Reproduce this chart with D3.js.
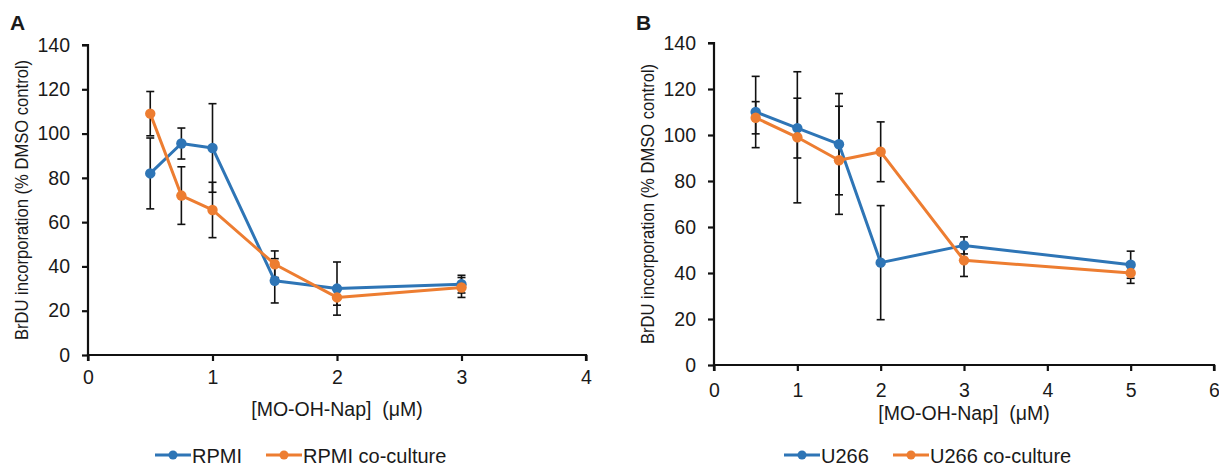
<!DOCTYPE html>
<html lang="en">
<head>
    <meta charset="UTF-8">
    <title>BrDU incorporation vs MO-OH-Nap</title>
    <script src="https://d3js.org/d3.v7.min.js"></script>
    <style>
        body {
            margin: 0;
            background: #fff;
            font-family: "Liberation Sans", Arial, sans-serif;
        }
        svg text { fill: #1a1a1a; }
    </style>
</head>
<body>
    <svg id="chart" width="1219" height="466"></svg>

    <script>
        // panel A data
        const xA = [0.5, 0.75, 1, 1.5, 2, 3];
        const rpmi = [82, 95.5, 93.5, 33.5, 30, 32];
        const rpmiErr = [16, 7, 20, 10, 12, 4];
        const rpmiCo = [109, 72, 65.5, 41, 26, 30.5];
        const rpmiCoErr = [10, 13, 12.5, 6, 3.5, 4.5];

        // panel B data
        const xB = [0.5, 1, 1.5, 2, 3, 5];
        const u266 = [110, 103, 96, 44.5, 52, 43.6];
        const u266Err = [15.5, 13, 22, 24.8, 3.7, 5.9];
        const u266Co = [107.5, 99, 89, 92.7, 45.5, 40];
        const u266CoErr = [7, 28.5, 23.5, 13, 7, 4.5];

        const yTicks = [0, 20, 40, 60, 80, 100, 120, 140];
        const xTicksA = [0, 1, 2, 3, 4];
        const xTicksB = [0, 1, 2, 3, 4, 5, 6];

        const BLUE = "#2e75b6";
        const ORANGE = "#ed7d31";

        const svg = d3.select("#chart");

        function drawPanel(p) {
            const g = svg.append("g");
            const x = d3.scaleLinear().domain(p.xDomain).range([p.left, p.right]);
            const y = d3.scaleLinear().domain([0, 140]).range([p.bottom, p.top]);

            // axes
            const yAxis = g.append("g")
                .attr("transform", `translate(${p.left},0)`)
                .call(d3.axisLeft(y).tickValues(yTicks).tickFormat(d3.format("d")).tickSize(6).tickPadding(12));
            const xAxis = g.append("g")
                .attr("transform", `translate(0,${p.bottom})`)
                .call(d3.axisBottom(x).tickValues(p.xTicks).tickFormat(d3.format("d")).tickSize(6).tickPadding(p.xPad));
            [yAxis, xAxis].forEach(a => {
                a.attr("font-size", null).attr("font-family", null);
                a.select(".domain").attr("stroke", "#111").attr("stroke-width", 2.2);
                a.selectAll(".tick line").attr("stroke", "#111").attr("stroke-width", 2.2);
                a.selectAll(".tick text").style("font-size", "19.5px").attr("fill", "#1a1a1a");
            });
            yAxis.select(".domain").attr("d", `M-6,${p.top}H0V${p.bottom}`);
            xAxis.select(".domain").attr("d", `M${p.left},6V0H${p.right}V6`);

            // titles (y title a bit stretched across, like the source figure)
            g.append("text")
                .attr("transform", `translate(${p.yTitleX},${(p.top + p.bottom) / 2}) rotate(-90) scale(1,1.12)`)
                .attr("text-anchor", "middle")
                .attr("dominant-baseline", "central")
                .style("font-size", "16.6px")
                .text("BrDU incorporation (% DMSO control)");
            g.append("text")
                .attr("x", (p.left + p.right) / 2)
                .attr("y", p.xTitleY)
                .attr("text-anchor", "middle")
                .attr("dominant-baseline", "central")
                .style("font-size", "19.5px")
                .style("white-space", "pre")
                .text("[MO-OH-Nap]  (\u03bcM)");
            g.append("text")
                .attr("x", p.letterX)
                .attr("y", 30)
                .style("font-size", "21px")
                .attr("font-weight", "bold")
                .text(p.letter);

            // series: error bars first, then lines and markers
            p.series.forEach(s => {
                const pts = p.xs.map((xv, i) => ({ x: xv, y: s.values[i], e: s.err[i] }));
                const eb = g.append("g").attr("stroke", "#111").attr("stroke-width", 1.6);
                pts.forEach(d => {
                    const cx = x(d.x);
                    eb.append("line").attr("x1", cx).attr("x2", cx).attr("y1", y(d.y - d.e)).attr("y2", y(d.y + d.e));
                    eb.append("line").attr("x1", cx - 4).attr("x2", cx + 4).attr("y1", y(d.y - d.e)).attr("y2", y(d.y - d.e));
                    eb.append("line").attr("x1", cx - 4).attr("x2", cx + 4).attr("y1", y(d.y + d.e)).attr("y2", y(d.y + d.e));
                });
            });
            p.series.forEach(s => {
                const pts = p.xs.map((xv, i) => ({ x: xv, y: s.values[i] }));
                g.append("path")
                    .datum(pts)
                    .attr("fill", "none")
                    .attr("stroke", s.color)
                    .attr("stroke-width", 3)
                    .attr("stroke-linejoin", "round")
                    .attr("d", d3.line().x(d => x(d.x)).y(d => y(d.y)));
                g.selectAll(null)
                    .data(pts)
                    .enter().append("circle")
                    .attr("cx", d => x(d.x))
                    .attr("cy", d => y(d.y))
                    .attr("r", 5.2)
                    .attr("fill", s.color);
            });

            // legend
            p.series.forEach((s, i) => {
                const lx = p.legendX[i];
                const lg = g.append("g").attr("transform", `translate(${lx},455)`);
                lg.append("line").attr("x1", 0).attr("x2", 36).attr("stroke", s.color).attr("stroke-width", 3);
                lg.append("circle").attr("cx", 18).attr("r", 4.5).attr("fill", s.color);
                lg.append("text")
                    .attr("x", 37)
                    .attr("y", 1)
                    .attr("dominant-baseline", "central")
                    .style("font-size", "20px")
                    .text(s.name);
            });
        }

        drawPanel({
            letter: "A", letterX: 10,
            left: 88, right: 586, top: 45, bottom: 355,
            xDomain: [0, 4], xTicks: xTicksA, xPad: 9,
            yTitleX: 22, xTitleY: 409,
            xs: xA,
            series: [
                { name: "RPMI", values: rpmi, err: rpmiErr, color: BLUE },
                { name: "RPMI co-culture", values: rpmiCo, err: rpmiCoErr, color: ORANGE }
            ],
            legendX: [155, 266]
        });

        drawPanel({
            letter: "B", letterX: 636,
            left: 714, right: 1214, top: 43, bottom: 365,
            xDomain: [0, 6], xTicks: xTicksB, xPad: 12,
            yTitleX: 648, xTitleY: 413,
            xs: xB,
            series: [
                { name: "U266", values: u266, err: u266Err, color: BLUE },
                { name: "U266 co-culture", values: u266Co, err: u266CoErr, color: ORANGE }
            ],
            legendX: [784, 893]
        });
    </script>
</body>
</html>
